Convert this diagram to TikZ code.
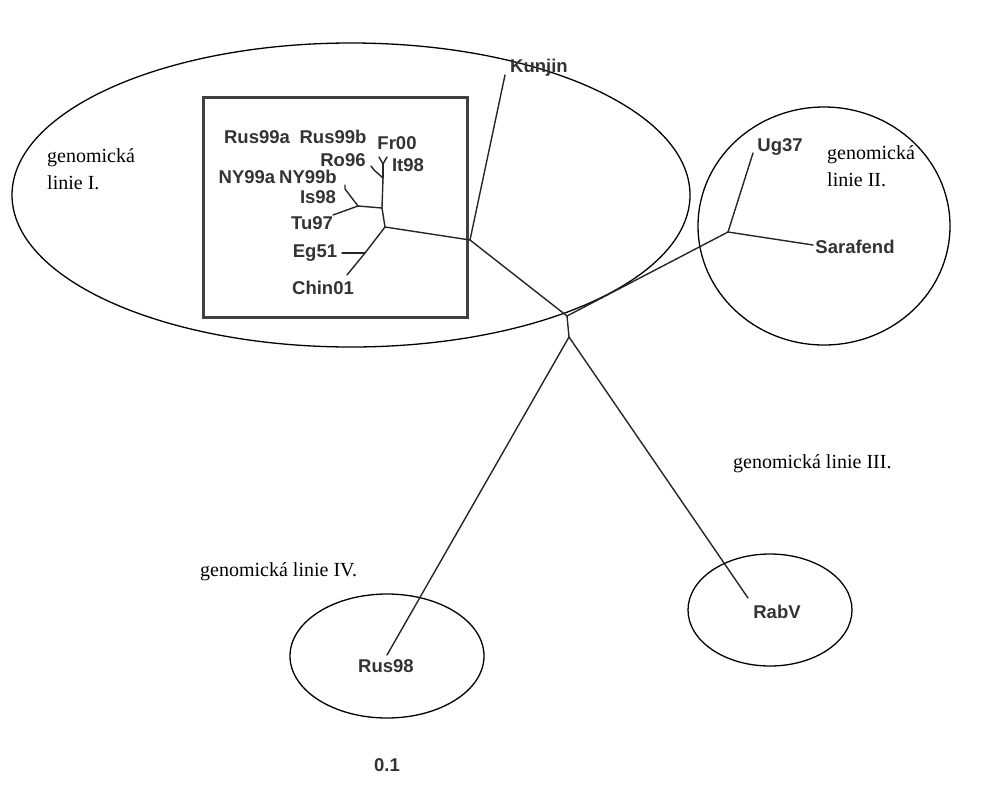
\documentclass[tikz,border=0pt]{standalone}
\usepackage{fontspec}
\setmainfont{Liberation Serif}
\newfontfamily\labfont{Liberation Sans}
\begin{document}
\begin{tikzpicture}[x=1pt,y=-1pt,
  br/.style={draw=black!85,line width=1.4pt,line cap=round},
  grp/.style={draw=black,line width=1.3pt},
  boxst/.style={draw=black!75,line width=3pt},
  tx/.style={font=\labfont\bfseries\fontsize{18.5}{20}\selectfont,text=black!80,inner sep=0pt},
  gl/.style={font=\fontsize{20}{27}\selectfont,inner sep=0pt,align=left,anchor=west}]
\useasboundingbox (0,0) rectangle (1000,785);

% group ellipses and box
\draw[grp] (351,195) ellipse [x radius=339, y radius=152];
\draw[grp] (824,226) ellipse [x radius=126, y radius=119];
\draw[grp] (770,610) ellipse [x radius=82, y radius=56];
\draw[grp] (387,656) ellipse [x radius=97, y radius=62];
\draw[boxst] (203,97) rectangle (467,317);

% internal nodes and tips
\coordinate (J1) at (470,240);
\coordinate (A) at (385,227);
\coordinate (B) at (382,208);
\coordinate (C) at (358,206);
\coordinate (D) at (383,178);
\coordinate (E) at (383,164);
\coordinate (F) at (365,253);
\coordinate (M) at (567,316);
\coordinate (M2) at (569,337);
\coordinate (S) at (728,232);
\coordinate (tKun) at (505,75);
\coordinate (tFr) at (379,157);
\coordinate (tIt) at (387,157);
\coordinate (tRo) at (374,170);
\coordinate (tRo2) at (371,166);
\coordinate (tNY) at (345,189);
\coordinate (tNY2) at (345,185);
\coordinate (tTu) at (333,215);
\coordinate (tEg) at (342,253);
\coordinate (tChin) at (347,275);
\coordinate (tUg) at (753,153);
\coordinate (tSar) at (813,245);
\coordinate (tRab) at (748,598);
\coordinate (tRus98) at (387,655);

% branches
\draw[br] (J1) -- (tKun);
\draw[br] (J1) -- (A);
\draw[br] (A) -- (B);
\draw[br] (B) -- (C);
\draw[br] (C) -- (tTu);
\draw[br] (C) -- (tNY) -- (tNY2);
\draw[br] (B) -- (D);
\draw[br] (D) -- (tRo) -- (tRo2);
\draw[br] (D) -- (E);
\draw[br] (E) -- (tFr);
\draw[br] (E) -- (tIt);
\draw[br] (A) -- (F);
\draw[br] (F) -- (tEg);
\draw[br] (F) -- (tChin);
\draw[br] (J1) -- (M);
\draw[br] (M) -- (S);
\draw[br] (S) -- (tUg);
\draw[br] (S) -- (tSar);
\draw[br] (M) -- (M2);
\draw[br] (M2) -- (tRab);
\draw[br] (M2) -- (tRus98);

% taxon labels
\node[tx] (lKun) at (539,68) {Kunjin};
\node[tx] (lUg) at (780,147) {Ug37};
\node[tx] (lSar) at (855,247) {Sarafend};
\node[tx] (lRab) at (777,612) {RabV};
\node[tx] (lRus98) at (386,666) {Rus98};
\node[tx] (lChin) at (323,288) {Chin01};
\node[tx] (lEg) at (315,253) {Eg51};
\node[tx] (lTu) at (312,223) {Tu97};
\node[tx] (lIs) at (318,197) {Is98};
\node[tx] (lNYa) at (247,177) {NY99a};
\node[tx] (lNYb) at (308,177) {NY99b};
\node[tx] (lRo) at (343,160) {Ro96};
\node[tx] (lRusa) at (257,137) {Rus99a};
\node[tx] (lRusb) at (333,137) {Rus99b};
\node[tx] (lFr) at (397,143) {Fr00};
\node[tx] (lIt) at (408,165) {It98};
\node[tx] (scale) at (387,765) {0.1};

% lineage labels
\node[gl] (g1) at (47,169) {genomická\\linie I.};
\node[gl] (g2) at (827,166) {genomická\\linie II.};
\node[gl] (g3) at (733,464) {genomická linie III.};
\node[gl] (g4) at (200,572) {genomická linie IV.};
\end{tikzpicture}
\end{document}
